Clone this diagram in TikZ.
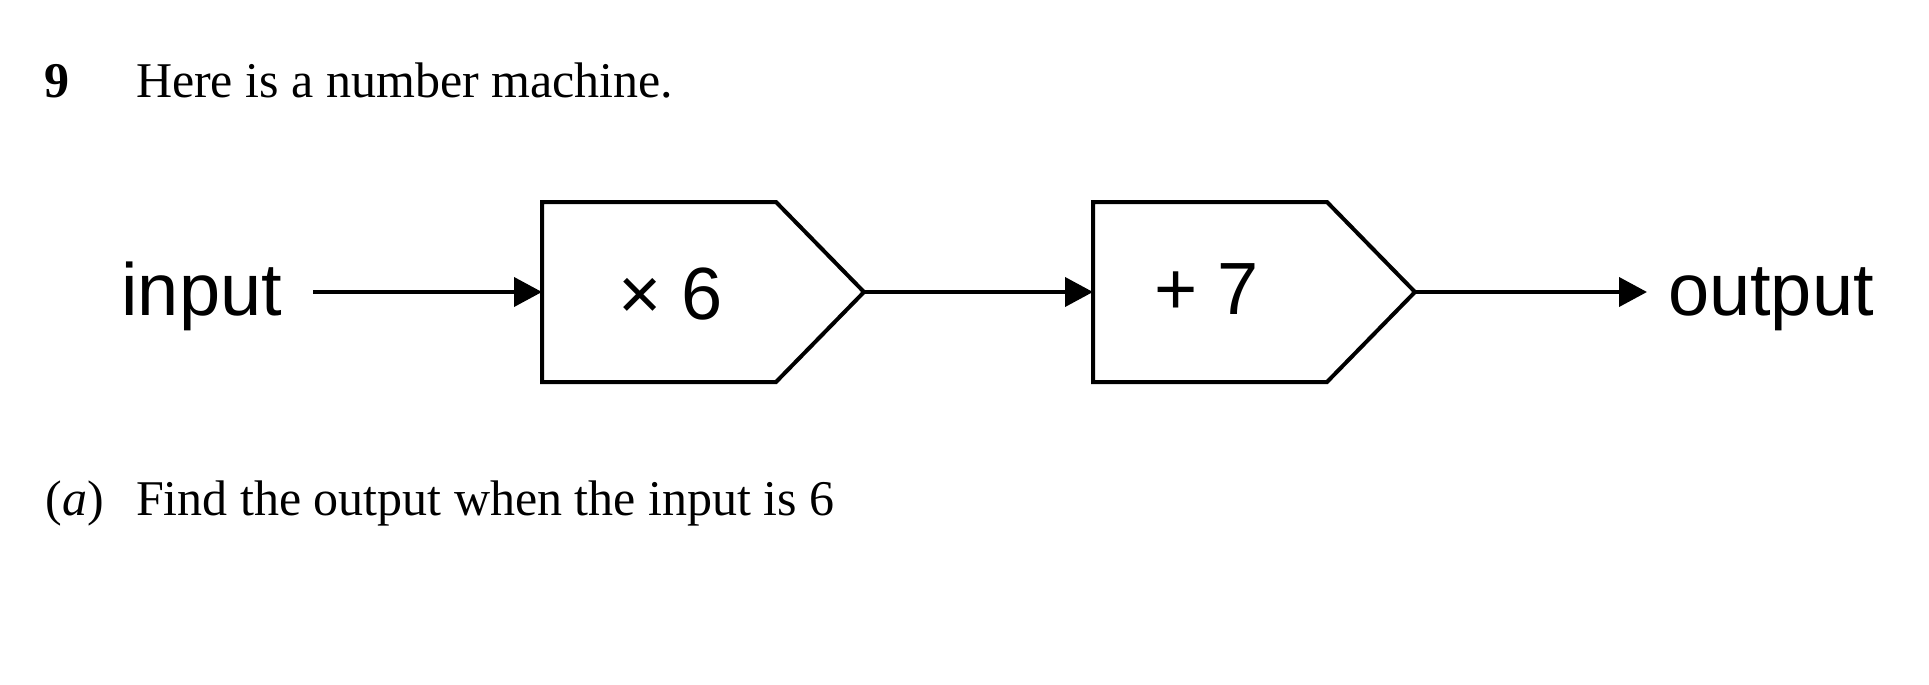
\documentclass[tikz,border=0pt]{standalone}
\usepackage{fontspec}
\setmainfont{Liberation Serif}
\newfontfamily\diag{Liberation Sans}
\usetikzlibrary{arrows.meta}
\begin{document}
\begin{tikzpicture}[x=0.5pt,y=-0.5pt,
 txt/.style={inner sep=0pt, outer sep=0pt, anchor=base west, font=\fontsize{25}{30}\selectfont},
 lbl/.style={inner sep=0pt, outer sep=0pt, font=\diag\fontsize{37}{44}\selectfont},
 op/.style={inner sep=0pt, outer sep=0pt, anchor=base west, font=\diag\fontsize{37}{44}\selectfont},
 mbox/.style={inner sep=0pt, outer sep=0pt, minimum width=117pt, minimum height=90pt},
 outline/.style={line width=2pt, line join=miter},
 arr/.style={line width=2pt, -{Triangle[length=14pt,width=14.5pt]}}]
\useasboundingbox (0,0) rectangle (1929,685);
% question text
\node[txt, font=\bfseries\fontsize{25}{30}\selectfont] (num) at (45,97) {9};
\node[txt] (q) at (136,97) {Here is a number machine.};
\node[txt] (pa) at (46,515) {(\textit{a})};
\node[txt] (qa) at (136,515) {Find the output when the input is 6};
% machine boxes
\node[mbox] (b1) at (659,292) {};
\coordinate (b1tip) at ([xshift=44pt]b1.east);
\draw[outline] (b1.north west) -- (b1.north east) -- (b1tip) -- (b1.south east) -- (b1.south west) -- cycle;
\node[mbox] (b2) at (1210,292) {};
\coordinate (b2tip) at ([xshift=44pt]b2.east);
\draw[outline] (b2.north west) -- (b2.north east) -- (b2tip) -- (b2.south east) -- (b2.south west) -- cycle;
% operations
\node[op] (t1) at (618,319) {× 6};
\node[op] (t2) at (1154,314) {+ 7};
% input / output
\node[lbl, anchor=base east, inner xsep=15.5pt] (in) at (313,315) {input};
\node[lbl, anchor=base west, inner xsep=10.5pt] (out) at (1647,315) {output};
% connectors
\draw[arr] (in.east |- b1.west) -- (b1.west);
\draw[arr] (b1tip) -- (b2.west);
\draw[arr] (b2tip) -- (out.west |- b2tip);
\end{tikzpicture}
\end{document}
